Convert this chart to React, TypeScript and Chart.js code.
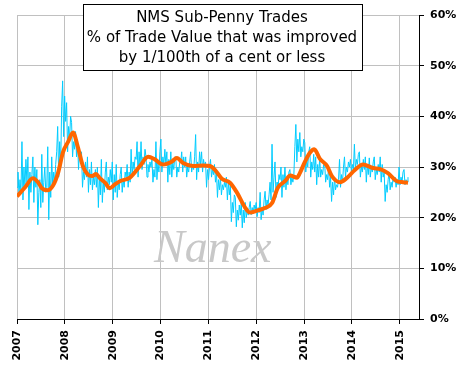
import { useEffect, useRef } from "react";
import { Chart, registerables } from "chart.js";

Chart.register(...registerables);

// Axis ticks
const YEARS = [2007, 2008, 2009, 2010, 2011, 2012, 2013, 2014, 2015];
const X_MIN = 2007;
const X_MAX = 2015.4;
const Y_MIN = 0;
const Y_MAX = 60;
const Y_STEP = 10;

// Text
const TITLE_LINES = [
  "NMS Sub-Penny Trades",
  "% of Trade Value that was improved",
  "by 1/100th of a cent or less",
];
const WATERMARK = "Nanex";

// Daily series (% of trade value improved by <= 1/100th cent), evenly spaced in time
const DAILY_START = 2007.0;
const DAILY_END = 2015.17;
const DAILY_VALUES = [
  26, 29, 24.5, 27.5, 25,
  35, 23.5, 30, 26, 31.5,
  27, 32, 21.6, 29, 25,
  28.5, 32, 23, 30, 26,
  29.5, 18.6, 25, 27.5, 22,
  32.5, 23, 27, 30, 25,
  26, 34, 19.6, 29, 24,
  32, 26, 29, 27, 30.5,
  33, 38, 28, 35, 30,
  42, 47, 36, 44, 39,
  42.7, 33, 38, 35.5, 40,
  38.8, 32, 35, 33.5, 37,
  32, 35.4, 29.5, 33, 31,
  33, 26, 29, 27.5, 31,
  28, 32, 25, 29.5, 26.5,
  31, 25.5, 28, 26.5, 29.5,
  26, 30, 22, 28, 24.5,
  31.5, 23, 27, 25, 29,
  31, 25.5, 28, 26.5, 29.5,
  27, 31, 23.5, 28.5, 25,
  30.5, 24, 27, 25.5, 28.5,
  30, 25, 27.5, 26, 29,
  28, 30.5, 26, 29, 27,
  33.5, 28, 31, 29.5, 32,
  31.5, 35, 28, 33, 30,
  35, 29.5, 32, 30.5, 33.5,
  32, 28, 30.5, 29, 31,
  30, 31.5, 27, 29.5, 28,
  35, 27.5, 31, 29, 33,
  35.5, 29, 32, 30.5, 33.5,
  30.5, 33, 27, 31.5, 28.5,
  33, 28, 31, 29.5, 32,
  32, 28, 30, 29, 31,
  31, 33, 29, 32, 30,
  32, 28, 30, 29, 31,
  33, 29, 30.5, 29.5, 32,
  36.4, 27.5, 31, 29, 33,
  30.5, 33, 29, 31.5, 30,
  31, 26, 29.5, 27.5, 30,
  31.5, 28, 29.5, 28.5, 30.5,
  27, 29, 24, 27.5, 25.5,
  28, 24.5, 26.5, 25.5, 27,
  26, 28, 23.5, 27, 24.5,
  26.5, 19.2, 23, 21, 24.5,
  24, 18.2, 21.5, 19.5, 22.5,
  20.5, 23, 18, 21.5, 19,
  23, 20, 21.5, 20.5, 22,
  23.2, 20.6, 22, 21, 22.5,
  21.5, 23, 20.2, 22, 21,
  25, 19.6, 22, 20.5, 23.5,
  25.2, 21.6, 23.5, 22.5, 24.5,
  27, 23.5, 34.5, 25, 28,
  31, 24, 27, 25.5, 28.5,
  27.5, 30, 24, 28.5, 26,
  30, 25.5, 28, 26.5, 29,
  29.5, 26.5, 28, 27, 28.5,
  34, 38.4, 31, 35.5, 33,
  36.8, 32, 34, 33, 35.5,
  34.8, 29, 31.5, 30, 33,
  34, 28, 31, 29.5, 32.5,
  29, 32, 26.5, 30.5, 28,
  31.8, 28, 29.5, 28.5, 30.5,
  31, 27, 28.5, 27.5, 30,
  26, 28, 23.2, 27, 24.5,
  28, 25.5, 26.5, 26, 27.5,
  31.5, 26, 28.5, 27, 30,
  32, 28, 30, 29, 31,
  30, 31.5, 29, 30.5, 29.5,
  34.5, 29.5, 31.5, 30.5, 32.5,
  33, 28, 30, 29, 31.5,
  29.5, 32, 27, 30.5, 28.5,
  31.8, 28, 30, 29, 31,
  32, 27.5, 29.5, 28.5, 30.5,
  29, 32, 27, 30.5, 28,
  29, 23.2, 26.5, 25, 27.5,
  29, 25.5, 27, 26, 28,
  27, 28, 26, 27.5, 26.5,
  30, 26.5, 28, 27, 29,
  29.5, 26.5, 27.5, 27, 28,
];

// Moving average series
const MA_YEARS = [
  2007.0, 2007.17, 2007.33, 2007.44, 2007.52, 2007.63, 2007.75, 2007.86, 2007.96,
  2008.07, 2008.17, 2008.27, 2008.38, 2008.48, 2008.57, 2008.65, 2008.73, 2008.84,
  2008.94, 2009.05, 2009.15, 2009.36, 2009.57, 2009.74, 2009.88, 2010.05, 2010.24,
  2010.34, 2010.47, 2010.68, 2010.89, 2011.03, 2011.14, 2011.28, 2011.45, 2011.6,
  2011.76, 2011.87, 2012.02, 2012.18, 2012.33, 2012.45, 2012.6, 2012.71, 2012.85,
  2012.91, 2013.02, 2013.12, 2013.21, 2013.33, 2013.48, 2013.58, 2013.75, 2013.9,
  2014.06, 2014.23, 2014.44, 2014.59, 2014.75, 2014.94, 2015.07, 2015.17,
];
const MA_VALUES = [
  24.2, 26.0, 27.8, 27.0, 25.8, 25.4, 26.3, 28.9, 32.9,
  35.0, 36.8, 34.0, 30.1, 28.5, 28.2, 28.6, 27.8, 26.9,
  25.8, 26.6, 27.2, 27.9, 30.2, 32.0, 31.5, 30.5, 31.1,
  31.8, 30.8, 30.2, 30.3, 30.2, 29.4, 27.7, 26.9, 24.9,
  22.1, 21.0, 21.4, 21.9, 22.9, 25.9, 27.2, 28.3, 27.9,
  28.8, 31.1, 32.8, 33.5, 31.6, 30.2, 28.2, 27.0, 27.9,
  29.4, 30.5, 29.8, 29.6, 28.8, 27.2, 27.0, 26.9,
];

const dailyStep = (DAILY_END - DAILY_START) / (DAILY_VALUES.length - 1);
const dailyPoints = DAILY_VALUES.map((v, i) => ({ x: DAILY_START + i * dailyStep, y: v }));
const maPoints = MA_YEARS.map((x, i) => ({ x, y: MA_VALUES[i] }));

const decorPlugin = {
  id: "decor",
  beforeDatasetsDraw(chart: any) {
    const ctx = chart.ctx;
    ctx.save();
    ctx.font = 'italic 46px "Liberation Serif"';
    ctx.fillStyle = "#c8c8c8";
    ctx.textAlign = "left";
    ctx.textBaseline = "alphabetic";
    ctx.fillText(WATERMARK, 154, 262);
    ctx.restore();
  },
  afterDraw(chart: any) {
    const ctx = chart.ctx;
    ctx.save();
    ctx.fillStyle = "#ffffff";
    ctx.fillRect(83.5, 4.5, 279, 66);
    ctx.strokeStyle = "#000000";
    ctx.lineWidth = 1;
    ctx.strokeRect(83.5, 4.5, 279, 66);
    ctx.fillStyle = "#000000";
    ctx.font = '15px "DejaVu Sans"';
    ctx.textAlign = "center";
    ctx.textBaseline = "middle";
    const ys = [18, 38, 58];
    TITLE_LINES.forEach((t, i) => ctx.fillText(t, 222, ys[i]));
    ctx.restore();
  },
};

export default function App() {
  const ref = useRef<HTMLCanvasElement | null>(null);
  useEffect(() => {
    if (!ref.current) return;
    const chart = new Chart(ref.current, {
      type: "line",
      data: {
        datasets: [
          {
            label: "Moving average",
            data: maPoints,
            borderColor: "#ff6600",
            backgroundColor: "#ff6600",
            borderWidth: 4,
            pointRadius: 0,
            tension: 0.4,
            cubicInterpolationMode: "monotone",
          },
          {
            label: "Daily",
            data: dailyPoints,
            borderColor: "#00ccff",
            backgroundColor: "#00ccff",
            borderWidth: 1,
            pointRadius: 0,
            tension: 0,
          },
        ],
      },
      options: {
        animation: false,
        responsive: false,
        maintainAspectRatio: false,
        layout: { padding: { left: 17, top: 15, right: 0, bottom: 0 } },
        plugins: {
          legend: { display: false },
          tooltip: { enabled: false },
          title: { display: false },
        },
        scales: {
          x: {
            type: "linear",
            min: X_MIN,
            max: X_MAX,
            afterBuildTicks: (scale: any) => {
              scale.ticks = YEARS.map((v) => ({ value: v }));
            },
            afterFit: (scale: any) => {
              scale.height = 51;
            },
            ticks: {
              minRotation: 90,
              maxRotation: 90,
              padding: 6,
              autoSkip: false,
              color: "#000",
              font: { family: "DejaVu Sans", size: 11, weight: "bold" },
              callback: (v: any) => String(v),
            },
            grid: { color: "#c0c0c0", lineWidth: 1, tickColor: "#000", tickLength: 5 },
            border: { color: "#000", width: 1 },
          },
          y: {
            type: "linear",
            position: "right",
            min: Y_MIN,
            max: Y_MAX,
            afterFit: (scale: any) => {
              scale.width = 45;
            },
            ticks: {
              stepSize: Y_STEP,
              padding: 6,
              color: "#000",
              font: { family: "DejaVu Sans", size: 11, weight: "bold" },
              callback: (v: any) => v + "%",
            },
            grid: { color: "#c0c0c0", lineWidth: 1, tickColor: "#000", tickLength: 5 },
            border: { color: "#000", width: 1 },
          },
        },
      },
      plugins: [decorPlugin],
    } as any);
    return () => chart.destroy();
  }, []);
  return (
    <div style={{ position: "fixed", left: 0, top: 0, width: 464, height: 370, background: "#fff" }}>
      <canvas ref={ref} width={464} height={370} style={{ width: 464, height: 370 }} />
    </div>
  );
}
